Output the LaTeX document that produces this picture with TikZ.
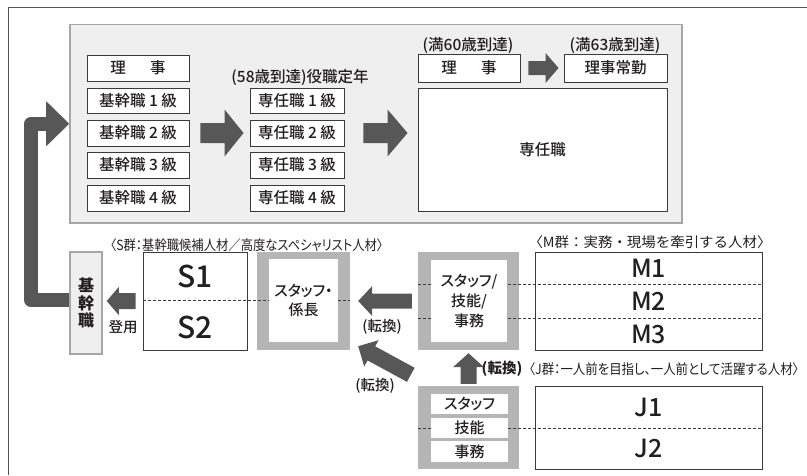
\documentclass[tikz,border=0pt]{standalone}
\usepackage{graphicx}
\usepackage{fontspec}
\setmainfont{Noto Sans CJK JP}
\newfontfamily\jpp[RawFeature=+palt]{Noto Sans CJK JP}
\IfFontExistsTF{Noto Sans CJK JP Medium}{%
  \newfontfamily\jpm{Noto Sans CJK JP Medium}%
  \newfontfamily\jpmp[RawFeature=+palt]{Noto Sans CJK JP Medium}}{%
  \newfontfamily\jpm[FakeBold=0.6]{Noto Sans CJK JP}%
  \newfontfamily\jpmp[FakeBold=0.6,RawFeature=+palt]{Noto Sans CJK JP}}
\usetikzlibrary{calc}
\definecolor{arrowc}{HTML}{575757}
\definecolor{framec}{HTML}{555555}
\definecolor{panelfill}{HTML}{EFEFEF}
\definecolor{panelline}{HTML}{A6A6A6}
\definecolor{grayb}{HTML}{B5B5B5}
\definecolor{boxline}{HTML}{3A3A3A}
\definecolor{txtc}{HTML}{231F20}
\newcommand{\jfs}[1]{\fontsize{#1}{#1}\selectfont}
\newcommand{\rbox}[7]{\node[#6, inner sep=0pt, minimum width={(#4-#2)*1pt}, minimum height={(#5-#3)*1pt}] (#1) at ({(#2+#4)/2},{(#3+#5)/2}) {#7};}
\newcommand{\blockarr}[5]{%
  \fill[arrowc] let \p1=(#1), \p2=(#2), \n1={atan2(\y2-\y1,\x2-\x1)}, \n2={veclen(\x2-\x1,\y2-\y1)} in
   [shift={(\p1)}, rotate=\n1] (0,-#3) -- ({\n2-#5},-#3) -- ({\n2-#5},-#4) -- (\n2,0) -- ({\n2-#5},#4) -- ({\n2-#5},#3) -- (0,#3) -- cycle;}
\tikzset{
  panelst/.style={fill=panelfill, draw=panelline, line width=1.6pt},
  wbox/.style={fill=white, draw=boxline, line width=0.9pt, text=txtc, font=\jpm\jfs{15.5}},
  obox/.style={draw=boxline, line width=0.9pt},
  gfill/.style={fill=grayb},
  wfill/.style={fill=white, text=txtc, align=center, font=\jpmp\jfs{15}},
  kanst/.style={fill=panelfill, draw=panelline, line width=1.5pt, text=txtc, align=center, font=\bfseries\fontsize{16}{17.5}\selectfont},
  txt/.style={text=txtc, inner sep=0pt, font=\jpm\jfs{15.5}},
  btxt/.style={text=txtc, inner sep=0pt, font=\jpm\jfs{14.5}},
  grp/.style={text=txtc, inner sep=0pt, font=\jfs{14}},
  grpp/.style={text=txtc, inner sep=0pt, font=\jpp\jfs{14}},
  bigS/.style={text=txtc, inner sep=0pt, font=\jpm\jfs{30}},
  bigM/.style={text=txtc, inner sep=0pt, font=\jpm\jfs{25}},
  dashln/.style={draw=boxline, line width=0.8pt, dash pattern=on 3pt off 2pt},
}
\begin{document}
\begin{tikzpicture}[x=1pt,y=-1pt]
\useasboundingbox (0,0) rectangle (807,475);
\draw[framec, line width=1.3pt] (807,7.5) -- (8.5,7.5) -- (8.5,475);
% top panel
\rbox{panel}{70}{24.5}{682}{223}{panelst}{}
\rbox{l0}{87}{55}{189}{81}{wbox}{理\hspace{1.55em}事}
\rbox{l1}{87}{88}{189}{113}{wbox}{基幹職 1 級}
\rbox{l2}{87}{120}{189}{146}{wbox}{基幹職 2 級}
\rbox{l3}{87}{152}{189}{178}{wbox}{基幹職 3 級}
\rbox{l4}{87}{185}{189}{211}{wbox}{基幹職 4 級}
\node[txt] (lab58) at (300,77) {(58歳到達)役職定年};
\rbox{m1}{250}{88}{344}{113}{wbox}{専任職 1 級}
\rbox{m2}{250}{120}{344}{146}{wbox}{専任職 2 級}
\rbox{m3}{250}{152}{344}{178}{wbox}{専任職 3 級}
\rbox{m4}{250}{185}{344}{211}{wbox}{専任職 4 級}
\node[txt] (lab60) at (468,45) {(満60歳到達)};
\node[txt] (lab63) at (615,45) {(満63歳到達)};
\rbox{r0}{418}{54}{520}{82}{wbox}{理\hspace{1.55em}事}
\rbox{r1}{564}{54}{667}{82}{wbox}{理事常勤}
\rbox{rb}{418}{88}{667}{211}{wbox}{専任職}
% arrows in panel
\coordinate (a1s) at ($(l2.east)+(11,0)$);
\coordinate (a1e) at ($(m2.west)+(-6,0)$);
\blockarr{a1s}{a1e}{10}{23.5}{19}
\coordinate (a2s) at ($(m2.east)+(19,0)$);
\coordinate (a2e) at ($(a2s -| rb.west)+(-10,0)$);
\blockarr{a2s}{a2e}{10}{23.5}{20}
\coordinate (a3s) at ($(r0.east)+(8,0)$);
\coordinate (a3e) at ($(r1.west)+(-5,0)$);
\blockarr{a3s}{a3e}{7}{15}{13}
% lower part: gray frames
\rbox{stg}{257}{252}{350}{350}{gfill}{}
\rbox{mg}{418}{252}{519}{350}{gfill}{}
\rbox{jg}{418}{386}{519}{469}{gfill}{}
% dashed separators
\draw[dashln] (143,300.5) -- (350,300.5);
\draw[dashln] (418,284) -- (762,284);
\draw[dashln] (418,318) -- (762,318);
\draw[dashln] (418,428) -- (762,428);
% boxes
\rbox{kan}{70}{252}{102}{354}{kanst}{基\\幹\\職}
\rbox{sbox}{143}{252}{247}{350}{obox}{}
\rbox{st}{269}{259}{338}{342}{wfill}{スタッフ・\\[4pt]係長}
\rbox{mi}{431}{260}{507}{342}{wfill}{スタッフ/\\[3.5pt]技能/\\[3.5pt]事務}
\rbox{mbox}{535}{252}{762}{350}{obox}{}
\rbox{j1}{431}{394}{508}{414}{wfill}{スタッフ}
\rbox{j2}{431}{418}{508}{438}{wfill}{技能}
\rbox{j3}{431}{441}{508}{462}{wfill}{事務}
\rbox{jbox}{535}{386}{762}{469}{obox}{}
% big labels
\node[bigS] (s1) at (195,276) {S1};
\node[bigS] (s2) at (195,327) {S2};
\node[bigM] (mm1) at (648.5,268) {M1};
\node[bigM] (mm2) at (648.5,301) {M2};
\node[bigM] (mm3) at (648.5,334) {M3};
\node[bigM] (jj1) at (648.5,407) {J1};
\node[bigM] (jj2) at (648.5,448.5) {J2};
% group labels
\node[grpp] (gS) at (246.7,245) {\resizebox{273pt}{\height}{〈S群：基幹職候補人材／高度なスペシャリスト人材〉}};
\node[grp] (gM) at (650,242) {\resizebox{243pt}{\height}{〈M群：実務・現場を牽引する人材〉}};
\node[grpp] (gJ) at (664,369) {\resizebox{270pt}{\height}{〈J群：一人前を目指し、一人前として活躍する人材〉}};
% L arrow
\coordinate (Lb) at ($(panel.west)+(-38,0)$);
\coordinate (Lh) at ($(panel.west)+(-23,0)$);
\draw[arrowc, line width=14.5pt, line join=round] ($(kan.west)+(0,-3)$) -| (Lb) -- (Lh);
\blockarr{Lh}{panel.west}{7.25}{22.5}{23}
% lower arrows
\coordinate (b1s) at ($(sbox.west)+(-7,0)$);
\coordinate (b1e) at ($(b1s -| kan.east)+(4,0)$);
\blockarr{b1s}{b1e}{8}{14}{12}
\node[btxt] (deyo) at (123,327) {登用};
\coordinate (b2s) at ($(mg.west)+(-6,0)$);
\coordinate (b2e) at ($(stg.east)+(8,0)$);
\blockarr{b2s}{b2e}{7.5}{15}{14}
\node[btxt] (tk1) at (382,327) {(転換)};
\coordinate (b3s) at ($(jg.north west)+(-7,-11)$);
\coordinate (b3e) at ($(stg.south east)+(8,-4)$);
\blockarr{b3s}{b3e}{8}{15}{15}
\node[btxt] (tk2) at (375,386) {(転換)};
\coordinate (b4s) at ($(jg.north)+(0,-2)$);
\coordinate (b4e) at ($(mg.south)+(0,3)$);
\blockarr{b4s}{b4e}{8}{15.5}{14}
\node[btxt, font=\bfseries\jfs{14.5}] (tk3) at (502,369) {(転換)};
\end{tikzpicture}
\end{document}
